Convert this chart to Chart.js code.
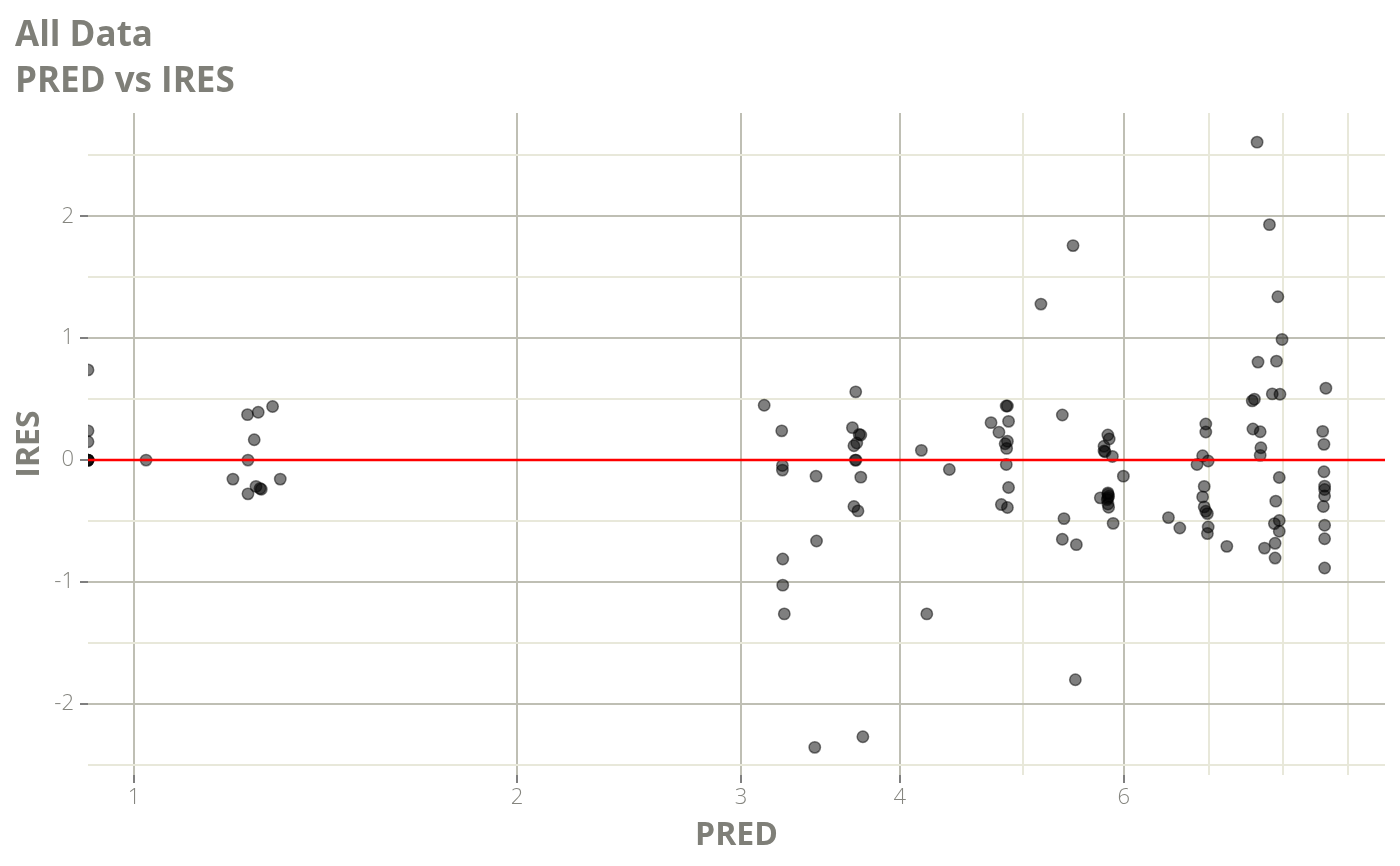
<!DOCTYPE html>
<html>
<head>
<meta charset="utf-8">
<script src="https://cdn.jsdelivr.net/npm/chart.js@4.4.1/dist/chart.umd.min.js"></script>
<style>
html,body{margin:0;padding:0;background:#fff;}
#wrap{width:1400px;height:866px;position:relative;}
</style>
</head>
<body>
<div id="wrap"><canvas id="c"></canvas></div>
<script>
// ---- data ----
const titleLines = ["All Data", "PRED vs IRES"];
const xAxisTitle = "PRED";
const yAxisTitle = "IRES";

const pred = [
  0.92, 0.92, 0.92, 0.92, 0.92, 0.92, 0.92,
  1.022, 1.228, 1.252, 1.285, 1.243, 1.229, 1.196, 1.303, 1.247, 1.256, 1.259, 1.229,
  3.129, 3.23, 3.234, 3.234, 3.236, 3.236, 3.245, 3.437, 3.44, 3.429,
  3.693, 3.671, 3.727, 3.716, 3.70, 3.681, 3.69, 3.695, 3.727, 3.681, 3.708, 3.741,
  4.159, 4.375, 4.20,
  4.849, 4.86, 4.718, 4.87, 4.786, 4.86, 4.84, 4.853, 4.85, 4.87, 4.807, 4.86,
  5.164, 5.473, 5.368, 5.384, 5.368, 5.506, 5.496,
  5.829, 5.843, 5.789, 5.789, 5.80, 5.877, 5.995, 5.75, 5.83, 5.837, 5.823, 5.83, 5.837, 5.885, 5.83, 5.83,
  6.505, 6.64, 6.96, 6.96, 6.92, 6.85, 6.99, 6.94, 6.92, 6.94, 6.96, 6.98, 6.99, 6.98, 7.23,
  7.637, 7.81, 7.93, 7.99, 7.65, 7.91, 7.57, 7.60, 7.85, 7.96, 7.58, 7.68, 7.69, 7.68, 7.95, 7.90, 7.88, 7.95, 7.95, 7.89, 7.89, 7.74,
  8.65, 8.60, 8.62, 8.62, 8.63, 8.63, 8.63, 8.61, 8.63, 8.63, 8.63
];
const ires = [
  0.74, 0.24, 0.15, 0, 0, 0, 0,
  0, 0.373, 0.392, 0.44, 0.167, 0, -0.156, -0.156, -0.216, -0.233, -0.239, -0.277,
  0.45, 0.24, -0.044, -0.082, -0.812, -1.026, -1.262, -0.132, -0.664, -2.357,
  0.56, 0.266, 0.206, 0.21, 0.14, 0.118, 0, 0, -0.14, -0.381, -0.417, -2.27,
  0.08, -0.077, -1.262,
  0.444, 0.444, 0.307, 0.318, 0.228, 0.154, 0.134, 0.096, -0.036, -0.225, -0.365, -0.389,
  1.28, 1.76, 0.37, -0.48, -0.65, -0.694, -1.802,
  0.206, 0.173, 0.113, 0.074, 0.068, 0.03, -0.132, -0.31, -0.269, -0.296, -0.324, -0.36, -0.387, -0.519, -0.28, -0.31,
  -0.472, -0.557, 0.296, 0.23, 0.035, -0.036, -0.008, -0.216, -0.302, -0.384, -0.42, -0.439, -0.549, -0.603, -0.708,
  2.609, 1.932, 1.34, 0.99, 0.804, 0.812, 0.486, 0.5, 0.543, 0.54, 0.255, 0.233, 0.101, 0.039, -0.143, -0.337, -0.521, -0.496, -0.584, -0.683, -0.804, -0.722,
  0.59, 0.236, 0.129, -0.096, -0.214, -0.241, -0.294, -0.381, -0.535, -0.645, -0.886
];

const xMajorTicks = [1, 2, 3, 4, 6];
const xMinorTicks = [5, 7, 8, 9];
const yMajorTicks = [-2, -1, 0, 1, 2];
const yMinorTicks = [-2.5, -1.5, -0.5, 0.5, 1.5, 2.5];
const refLineY = 0;
const xRange = [0.92, 9.627];
const yRange = [-2.584, 2.848];

// ---- styles ----
const TITLE_COLOR = '#7f7f78';
const TICK_COLOR = '#85857f';
const MAJOR_GRID = '#bfbfb4';
const MINOR_GRID = '#e8e8da';

Chart.defaults.font.family = "'Open Sans', 'Noto Sans', sans-serif";

const points = pred.map((x, i) => ({x: x, y: ires[i]}));

const titlePlugin = {
  id: 'titleLines',
  afterDraw(chart) {
    const ctx = chart.ctx;
    ctx.save();
    ctx.fillStyle = TITLE_COLOR;
    ctx.font = "bold 35px 'Open Sans', 'Noto Sans', sans-serif";
    ctx.textAlign = 'left';
    ctx.textBaseline = 'alphabetic';
    ctx.fillText(titleLines[0], 15, 46);
    ctx.fillText(titleLines[1], 15, 92);
    ctx.restore();
  }
};

new Chart(document.getElementById('c'), {
  data: {
    datasets: [
      {
        type: 'line',
        data: [{x: xRange[0], y: refLineY}, {x: xRange[1], y: refLineY}],
        borderColor: '#ff0000',
        borderWidth: 2.5,
        pointRadius: 0,
        order: 0
      },
      {
        type: 'scatter',
        data: points,
        backgroundColor: 'rgba(0,0,0,0.5)',
        borderColor: 'rgba(0,0,0,0.5)',
        borderWidth: 1.5,
        pointRadius: 5.7,
        order: 1
      }
    ]
  },
  options: {
    responsive: true,
    maintainAspectRatio: false,
    animation: false,
    layout: {padding: {top: 113, right: 15, left: 0, bottom: 0}},
    plugins: {legend: {display: false}, tooltip: {enabled: false}, title: {display: false}},
    scales: {
      x: {
        type: 'logarithmic',
        min: xRange[0],
        max: xRange[1],
        afterBuildTicks(scale) {
          scale.ticks = xMajorTicks.concat(xMinorTicks).sort((a, b) => a - b).map(v => ({value: v}));
        },
        afterFit(scale) { scale.height = 91; },
        border: {display: false},
        grid: {
          color: c => xMajorTicks.includes(c.tick && c.tick.value) ? MAJOR_GRID : MINOR_GRID,
          tickColor: c => xMajorTicks.includes(c.tick && c.tick.value) ? '#7f7f7f' : 'rgba(0,0,0,0)',
          lineWidth: 2,
          tickLength: 8,
          tickWidth: 2
        },
        ticks: {
          autoSkip: false,
          maxRotation: 0,
          padding: 2,
          color: TICK_COLOR,
          font: {size: 22, weight: 300},
          callback: v => xMajorTicks.includes(v) ? String(v) : ''
        },
        title: {
          display: true,
          text: xAxisTitle,
          color: TITLE_COLOR,
          font: {size: 32, weight: 'bold'},
          padding: 11
        }
      },
      y: {
        type: 'linear',
        min: yRange[0],
        max: yRange[1],
        afterBuildTicks(scale) {
          scale.ticks = yMajorTicks.concat(yMinorTicks).sort((a, b) => a - b).map(v => ({value: v}));
        },
        afterFit(scale) { scale.width = 88; },
        border: {display: false},
        grid: {
          color: c => yMajorTicks.includes(c.tick && c.tick.value) ? MAJOR_GRID : MINOR_GRID,
          tickColor: c => yMajorTicks.includes(c.tick && c.tick.value) ? '#7f7f7f' : 'rgba(0,0,0,0)',
          lineWidth: 2,
          tickLength: 8,
          tickWidth: 2
        },
        ticks: {
          autoSkip: false,
          padding: 6,
          color: TICK_COLOR,
          font: {size: 22, weight: 300},
          callback: v => yMajorTicks.includes(v) ? String(v) : ''
        },
        title: {
          display: true,
          text: yAxisTitle,
          color: TITLE_COLOR,
          font: {size: 32, weight: 'bold'},
          padding: 11
        }
      }
    }
  },
  plugins: [titlePlugin]
});
</script>
</body>
</html>
